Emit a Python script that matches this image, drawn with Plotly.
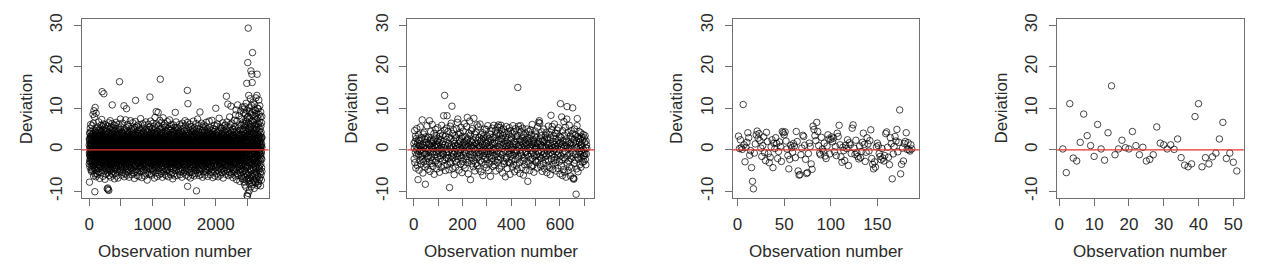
import plotly.graph_objects as go

# ---------------- data (deviations, read/estimated from the picture) ----------------
dev_panel1 = [
1.2,-3.4,2.6,-0.8,-7.8,2.3,4.1,-2.7,0.4,-1.5,-4.1,1.7,-1.3,3.9,-0.6,0.9,5.2,-2.2,2.8,-0.5,
3.3,-1.1,0.2,6.1,-3.0,1.5,-1.9,4.4,-4.8,2.6,0.7,-2.5,1.3,-0.3,3.2,-5.2,1.1,-0.9,-3.7,0.0,
-1.6,2.6,2.1,-4.4,3.5,-0.9,5.8,-2.7,1.9,-2.9,0.4,0.6,-3.3,1.9,-1.2,2.4,-5.0,3.7,-0.4,8.5,
0.8,-2.0,4.0,-1.6,2.9,-1.1,6.4,-3.8,1.3,-6.3,3.3,0.3,-2.4,1.7,9.4,-0.6,2.0,-4.4,1.6,-3.1,
3.0,-1.4,0.0,-4.2,0.5,7.9,-2.8,1.0,-5.8,-10.1,2.4,-0.1,2.7,-3.5,10.2,4.6,-1.8,0.1,-4.7,3.6,
-2.3,1.8,2.6,-0.7,4.1,-6.5,2.2,-3.9,0.9,8.8,-1.0,3.3,-2.3,2.5,-2.6,5.1,-0.2,1.4,-5.7,1.4,
0.6,-0.8,3.8,-2.1,1.0,-4.9,2.9,0.3,-1.7,5.5,-3.2,1.2,-0.4,4.2,-6.0,0.8,2.3,-1.5,-3.6,1.9,
-0.3,4.7,-2.6,1.6,-1.2,3.1,-4.5,0.5,2.0,-0.9,6.7,-2.9,1.4,-3.8,0.2,2.8,-5.3,3.6,-1.0,0.4,
2.2,-3.5,0.9,-1.3,5.0,-2.2,1.8,-6.9,3.4,0.1,-0.6,2.5,-4.0,4.6,-1.9,0.7,3.0,-2.4,1.1,-0.2,
-4.3,1.5,3.9,-0.5,2.1,-3.0,0.0,5.9,-1.6,2.7,-5.5,1.3,-2.1,0.6,3.5,-1.4,-3.2,7.3,0.3,-0.7,
1.7,-2.6,4.4,-0.1,14.0,-4.6,2.4,0.8,-1.8,3.2,-3.4,1.0,5.6,-0.9,-2.7,2.0,-6.4,0.5,3.7,-1.1,
0.2,3.0,-2.3,1.5,-4.1,6.2,-0.8,2.6,-1.5,0.9,4.8,13.5,-3.6,1.2,-0.4,-5.1,2.9,-2.0,0.6,3.3,
-1.7,0.4,-3.9,2.1,5.3,-0.6,1.8,-2.5,4.0,-7.1,0.7,3.4,-1.2,2.2,-4.4,0.0,1.5,6.0,-2.8,-0.3,
2.7,-1.4,0.9,-3.1,4.3,-5.9,1.6,-0.7,2.8,-2.2,0.3,5.0,-3.7,1.1,-1.0,3.6,-4.8,0.8,2.0,-0.5,
-2.9,1.9,-0.2,4.5,-9.4,0.6,-3.3,2.3,-1.6,5.7,-4.2,1.0,3.1,-0.8,-9.2,2.5,-5.4,0.4,-2.0,-9.6,
3.8,-1.9,0.5,-4.7,2.0,-0.1,6.5,-2.6,1.3,-9.8,-3.5,4.1,-0.9,1.7,-6.2,2.9,-1.3,0.2,3.4,-2.4,
0.7,-5.0,2.6,-0.6,4.9,-2.1,1.4,-3.9,0.1,3.2,-1.5,7.0,-4.5,1.9,-0.3,2.4,-2.7,0.9,-6.6,3.0,
-1.0,2.2,-3.2,5.4,-0.4,1.2,-4.9,0.8,3.7,-2.2,0.0,-5.6,2.7,-1.1,4.2,-0.7,1.6,-3.4,6.3,-1.8,
2.5,-0.5,1.0,10.8,-3.0,-1.4,4.6,-2.3,0.6,-4.1,2.1,-0.2,3.9,-6.0,1.3,-1.7,0.4,5.2,-2.9,1.7,
-3.6,0.3,2.8,-1.2,-5.2,1.8,-0.8,3.5,-2.6,0.9,6.0,-4.3,1.1,-0.1,2.4,-3.1,4.5,-1.6,0.2,-7.0,
1.6,-2.1,0.7,4.7,-0.9,2.3,-4.6,1.0,-1.4,3.0,-0.3,5.8,-3.3,0.5,2.1,-2.5,-5.7,1.4,3.6,-0.6,
-1.9,0.2,3.3,-3.8,1.5,-0.7,6.6,-2.0,0.8,-4.4,2.6,-1.1,0.1,4.1,-6.3,1.9,-0.4,2.7,-2.8,0.6,
3.1,-1.5,-3.5,0.9,5.1,-0.2,1.7,-2.4,-0.8,2.9,-4.7,0.4,3.8,-1.8,1.2,-6.8,2.0,-0.5,4.4,-2.2,
0.3,2.4,-1.3,-4.0,1.1,3.5,-2.7,0.6,-0.1,6.2,-3.6,1.8,-1.0,2.3,-5.3,0.0,4.0,-2.1,1.5,16.4,
-0.9,1.3,-3.0,4.8,-1.7,0.5,2.2,-5.0,1.0,-0.4,3.3,-2.3,0.8,7.4,-1.2,-3.9,2.5,-0.7,1.9,-4.6,
2.0,-0.3,5.5,-2.6,0.2,-1.5,3.7,-4.2,1.6,-0.6,2.8,-6.1,0.9,-1.9,4.3,-0.1,1.2,-3.2,2.6,0.4,
-2.7,4.0,-0.8,1.4,-3.6,2.1,0.0,-1.3,6.4,-4.8,1.7,-0.5,3.1,-2.0,0.6,-5.5,2.3,-1.0,3.9,-0.2,
1.1,-2.4,0.5,3.4,-1.6,-4.3,2.7,0.2,-0.9,10.6,-3.1,1.5,4.6,-1.4,-6.5,0.7,2.0,-2.6,0.1,5.0,
-1.3,2.6,-3.7,0.8,1.9,-0.4,4.2,-2.2,0.3,-5.8,3.0,-1.1,1.4,-0.6,2.5,-3.4,7.2,0.9,-1.8,2.2,
0.6,-4.0,1.8,-0.2,3.6,-2.9,0.4,5.3,-1.5,9.9,-0.7,2.1,-4.5,1.2,-2.3,3.2,0.0,-6.1,1.7,-0.8,
2.9,-1.2,0.3,-3.3,4.5,-0.5,1.6,-2.1,6.1,-4.9,0.8,2.4,-1.7,0.1,3.7,-3.0,1.3,-0.9,-5.4,2.0,
-0.6,3.2,-2.5,1.0,-0.3,5.6,-4.1,0.7,2.2,-1.4,-6.6,1.5,-0.8,4.0,-2.0,0.5,2.8,-3.5,1.1,-1.0,
4.4,-1.7,0.2,-3.9,2.5,-0.4,1.9,-5.1,3.3,0.6,-1.3,7.0,-2.7,1.4,-0.1,2.9,-4.3,0.9,-2.2,3.6,
-1.5,0.8,2.4,-2.8,5.1,-0.6,1.2,-4.6,0.3,3.0,-1.9,-6.0,2.1,-0.2,4.7,-3.1,1.6,-0.9,2.6,-0.4,
0.9,-3.3,1.7,4.3,-1.1,-0.5,2.8,-2.4,6.5,-5.0,0.4,1.9,-1.6,3.4,-0.7,0.1,-4.2,2.3,-2.9,1.3,
-0.2,2.7,-5.6,0.6,3.8,-1.8,1.1,-0.3,-3.6,4.9,-2.1,0.8,2.0,-6.9,1.4,-0.8,3.1,-2.5,0.5,5.4,
-1.4,0.3,2.2,-4.0,1.0,-2.7,3.6,0.0,-1.2,6.8,-3.8,1.7,11.9,-0.6,2.5,-5.2,0.7,-1.9,4.1,-0.1,
1.8,-2.3,0.4,3.0,-4.7,1.3,-0.9,2.6,-1.6,0.2,5.7,-3.0,0.9,-0.4,2.3,-6.2,1.5,-2.0,3.5,-0.7,
-3.2,1.6,-0.5,4.6,-1.3,0.7,2.1,-5.4,0.3,-2.6,3.9,-0.2,1.2,-4.1,6.0,-1.5,0.6,2.8,-3.4,1.0,
0.1,-1.9,3.4,-0.8,2.0,-6.4,1.4,-2.2,4.8,0.5,-1.0,2.5,-3.7,0.9,-0.3,5.3,-2.8,1.7,-4.5,0.4,
2.6,-0.6,-3.0,1.9,4.0,-1.7,0.2,-5.3,3.1,-0.4,1.5,-2.4,7.5,-0.9,0.8,-3.9,2.4,-1.2,0.0,4.5,
-2.1,1.1,-0.7,3.7,-4.4,0.6,2.7,-1.5,0.3,-6.7,2.0,-0.2,5.2,-3.3,1.3,-1.0,3.3,-2.7,0.9,-0.5,
1.4,-3.6,0.5,2.3,-1.1,6.3,-4.0,0.8,-0.6,3.0,-2.2,1.7,-5.1,0.2,4.3,-1.8,0.7,-3.0,2.2,-0.3,
-0.8,4.1,-2.5,0.4,1.6,-4.8,2.9,-0.1,-1.4,5.9,-3.2,1.0,0.3,-2.0,3.6,-6.3,1.2,-0.7,2.5,-1.6,
3.2,-0.4,1.8,-3.7,0.6,-1.2,4.7,-2.6,0.1,2.1,-5.7,1.5,-0.9,3.4,-1.9,0.8,6.7,-4.1,0.4,-2.3,
0.7,2.4,-1.0,-3.5,5.0,-0.3,1.3,-2.1,3.8,-4.6,0.5,-1.7,2.6,-0.6,1.0,-7.3,2.8,0.2,-2.9,4.2,
-1.5,0.9,3.1,-2.4,0.0,-5.5,1.9,-0.8,4.4,-1.3,2.2,-3.1,0.6,6.1,-2.7,1.4,-0.5,3.0,-4.3,0.8,
1.2,-2.0,0.3,4.9,-3.8,1.7,-0.2,2.5,-1.6,-5.9,3.3,0.4,-1.1,2.0,-4.0,0.9,5.5,-2.5,1.1,12.7,
-0.4,3.6,-2.9,0.8,1.4,-4.7,2.3,-0.6,0.2,6.9,-3.4,1.6,-1.0,3.9,-2.2,0.5,-5.8,2.1,-0.3,1.7,
4.3,-1.4,0.6,-3.1,2.7,-0.9,1.1,-6.1,3.5,-0.1,-2.6,5.1,-1.8,0.7,2.4,-4.4,1.3,-0.5,3.0,-2.1,
0.9,-4.9,2.0,-0.7,1.5,3.9,-2.3,0.1,-1.2,6.4,-3.6,1.8,-0.4,2.9,-5.2,0.6,4.6,-1.6,-2.8,1.0,
-0.6,2.2,-3.4,1.3,5.7,-1.1,0.4,-2.5,3.2,-6.8,0.8,-0.3,4.1,-2.0,1.6,-1.3,2.6,-4.1,0.2,7.8,
1.9,-2.8,0.5,-1.6,3.7,-0.2,2.1,-4.5,1.0,-0.8,5.3,-3.0,1.4,-0.5,2.4,-5.6,0.7,3.3,-1.9,9.2,
-1.2,3.5,-0.4,1.6,-4.2,2.8,0.0,-2.3,6.2,-1.5,0.9,-3.7,2.0,-0.7,4.5,-2.6,1.2,-6.4,0.3,2.5,
4.0,-1.0,0.6,-3.3,2.3,-0.2,1.5,-5.0,3.1,9.0,-2.2,0.4,-1.4,5.8,-3.9,1.1,-0.6,2.7,-2.4,0.8,
1.3,-4.6,3.0,-0.9,0.2,-2.0,4.9,-1.7,2.4,-6.0,0.5,1.8,-3.5,0.0,3.6,-1.1,7.1,-2.7,1.0,-0.3,
-2.5,2.0,0.7,17.0,-4.3,1.4,-1.0,3.3,-0.5,5.0,-2.9,0.9,-1.8,2.6,-5.7,0.3,4.2,-1.3,1.7,-3.2,
0.4,6.6,-2.1,1.2,-0.6,3.9,-4.0,0.8,-1.5,2.2,-3.3,5.4,-0.2,1.6,-6.6,2.8,-0.9,0.1,4.0,-2.4,
3.4,-0.8,1.0,-4.8,2.5,-1.2,0.3,7.7,-3.0,1.7,-0.4,2.9,-5.3,0.6,-1.9,4.3,-2.2,1.3,-0.7,2.0,
-1.0,0.5,-3.8,2.4,5.9,-2.5,1.1,-0.3,3.0,-4.4,0.7,-1.6,6.3,-2.0,0.2,1.9,-5.9,3.5,-0.6,1.4,
2.3,-3.1,0.0,4.6,-1.4,1.0,-2.7,0.8,5.5,-4.7,1.6,-0.5,2.7,-6.2,0.4,3.1,-1.7,-0.2,2.0,-3.6,
0.6,1.7,-2.3,3.8,-0.9,-5.1,2.5,0.2,-1.2,4.4,-3.4,1.1,-0.4,6.8,-2.6,0.9,-1.5,3.2,-4.9,0.3,
-0.7,2.9,-4.2,1.4,0.1,-1.9,5.2,-2.4,0.7,3.3,-6.5,1.0,-0.3,2.1,-3.0,4.7,-1.1,0.5,-2.2,1.8,
3.6,-0.1,-2.8,1.2,-5.4,2.6,0.4,-1.3,7.2,-3.5,0.9,1.7,-0.6,-4.1,2.3,-1.8,0.0,5.6,-2.9,1.1,
-1.6,0.8,3.0,-3.2,1.5,-0.4,4.8,-6.0,0.6,2.2,-1.0,3.6,-4.5,0.3,-2.1,1.9,6.1,-0.8,-3.4,0.7,
2.1,-2.5,0.4,1.6,-4.0,5.1,-1.3,0.9,-0.2,3.4,-5.5,1.3,-1.7,2.7,0.0,-3.1,4.2,-0.6,1.0,-7.0,
0.5,3.7,-1.5,-2.9,1.8,-0.3,2.5,-4.6,6.0,-1.1,0.7,-2.2,3.1,-0.5,1.4,-5.8,2.0,0.2,-3.3,4.5,
-0.9,1.2,-3.6,2.8,0.1,-1.4,4.3,-2.0,0.6,-6.3,3.5,-0.7,1.7,-2.4,5.4,0.3,-4.2,1.5,-1.0,9.0,
2.4,-0.6,0.9,-4.4,1.6,3.2,-2.6,0.0,-1.2,4.6,-3.1,1.1,6.7,-0.9,-5.0,2.2,-1.6,0.5,3.0,-2.3,
1.0,-3.9,2.6,-0.4,0.7,-1.8,5.3,-2.8,1.4,-0.1,3.7,-6.2,0.8,2.1,-1.3,-3.5,4.0,-0.5,1.9,-2.0,
0.3,2.5,-1.7,-4.0,3.3,-0.8,1.2,-2.9,0.6,5.0,-3.4,1.5,-0.2,2.8,-5.1,0.9,-1.1,3.9,-2.5,0.4,
-1.3,4.2,-0.5,1.8,-3.7,0.2,2.4,-1.6,6.1,-4.6,0.7,-0.9,3.1,-2.2,1.0,-6.0,2.7,0.1,-1.5,3.5,
1.6,-2.4,0.8,-0.3,4.5,-5.3,1.9,-1.0,2.3,-3.2,0.4,5.7,-1.8,0.6,-4.3,2.9,-0.7,1.3,-2.6,0.0,
-0.5,3.0,-2.1,1.1,-6.6,2.2,0.5,-1.4,4.1,-3.0,1.7,-0.2,2.6,-4.9,0.8,6.4,-2.3,1.0,-0.8,2.4,
3.8,-1.2,0.2,-3.5,1.4,-0.6,5.2,-2.7,0.9,-1.9,2.8,-5.6,1.2,0.4,-2.0,3.4,-0.3,-4.4,1.8,-1.1,
0.7,2.1,-3.3,4.6,-0.9,1.3,-1.7,0.1,-5.0,3.2,-0.4,2.4,-2.8,7.0,-1.4,0.6,-3.8,1.6,0.3,-2.2,
2.9,-0.7,1.5,-4.1,0.0,5.9,-2.5,1.1,-1.3,3.5,-6.1,0.8,-0.5,2.2,-3.0,1.7,4.3,-1.9,0.4,-4.6,
-1.0,3.3,-2.4,0.6,4.8,-0.2,1.9,-5.2,2.5,-1.5,14.3,-3.6,0.9,6.6,-8.8,1.4,-0.6,3.0,-2.1,11.1,
0.5,-1.8,4.0,-3.1,1.2,-0.4,2.7,-6.4,0.2,5.4,-2.2,1.0,-0.9,3.6,-4.7,0.7,2.0,-1.6,-3.4,1.5,
-0.3,2.6,-1.2,0.8,-5.5,3.9,-0.7,1.6,-2.7,0.0,6.2,-4.0,1.3,-1.0,2.4,-2.9,0.5,4.7,-1.7,-6.8,
1.9,-0.5,3.1,-2.3,0.7,-4.5,2.2,-1.1,5.6,-0.2,1.4,-3.5,0.3,2.9,-1.9,-5.4,1.0,3.8,-0.8,0.6,
-2.6,1.2,-0.4,4.4,-3.0,0.9,2.0,-1.5,-6.0,3.4,-0.6,1.7,-2.2,5.0,0.1,-4.2,2.6,-1.0,0.5,-3.6,
3.0,-1.4,0.2,-2.8,1.6,6.9,-3.9,0.7,-0.9,2.4,-5.0,1.1,3.7,-1.8,0.4,-2.5,4.6,-0.3,1.3,-6.3,
-0.8,2.3,-3.4,1.0,0.0,-1.6,5.3,-2.4,1.8,-4.6,0.6,3.2,-0.7,2.1,-5.7,1.4,-1.2,0.3,4.0,-2.0,
1.1,-3.7,2.8,-0.5,1.9,-1.3,0.4,-4.9,3.5,6.3,-2.1,0.8,-0.2,2.6,-9.9,1.5,-1.7,4.4,-3.2,0.2,
-1.4,0.7,3.6,-2.6,1.2,-0.6,5.1,-4.3,0.3,-1.9,2.5,-3.0,7.4,-0.4,1.6,-5.6,0.9,2.0,-1.1,-2.7,
2.2,-0.8,0.5,-3.9,4.2,-1.6,1.0,-2.2,0.0,5.8,-4.8,1.7,-0.5,2.9,-1.3,0.6,-6.2,3.3,-0.2,1.4,
-2.9,1.8,0.2,-1.0,3.7,-5.1,2.4,-0.7,1.1,9.1,-3.5,0.4,4.9,-1.8,0.8,-2.6,2.3,-0.1,-4.4,1.6,
0.9,-2.2,3.4,-0.6,-5.9,1.5,0.2,-1.4,4.1,-3.3,1.3,-0.3,2.7,6.4,-2.5,0.5,-1.1,3.0,-4.7,0.0,
-0.4,2.5,-1.8,1.0,-3.6,4.7,-0.9,0.3,-2.0,1.9,-6.6,2.8,0.6,-1.2,3.5,-2.8,1.2,-0.5,5.5,-3.9,
1.7,-1.1,0.4,-4.2,2.6,-0.2,6.0,-2.5,1.0,-1.6,3.1,-5.3,0.7,2.2,-0.8,-3.0,4.3,-1.4,0.1,2.0,
-3.3,0.8,1.6,-0.5,4.8,-2.1,0.2,-6.1,2.9,-1.2,1.4,-3.7,5.6,-0.3,0.9,-2.4,1.8,-4.9,3.2,-0.6,
0.5,2.4,-1.7,-4.5,1.1,3.6,-0.4,-2.3,0.8,6.6,-3.1,1.5,-1.0,2.1,-5.4,0.3,4.0,-1.9,0.6,-2.8,
2.7,-0.9,0.3,-3.4,1.8,-1.3,5.0,-2.6,0.4,-0.7,3.3,-6.4,1.9,-0.1,2.5,-4.0,1.0,-1.5,4.5,0.2,
-1.8,3.9,-2.2,0.7,-0.4,1.6,-5.0,2.3,-1.1,4.2,0.0,-3.2,1.3,-0.8,6.9,-2.7,0.5,2.8,-4.3,1.2,
0.4,-2.5,1.4,-0.2,3.0,-4.6,0.9,5.3,-1.6,2.0,-3.5,0.6,-1.2,2.6,-6.0,1.7,-0.6,3.7,-2.0,0.1,
3.5,-1.3,0.8,-3.9,2.1,-0.5,1.2,-2.8,4.6,-5.5,0.3,1.9,-0.9,3.2,-1.7,0.6,-4.1,2.4,7.1,-2.3,
-0.6,1.6,-2.9,4.0,0.4,-1.5,2.8,-4.8,0.1,3.3,-0.8,1.1,-6.7,2.2,-1.9,5.1,-0.3,0.9,-2.6,1.4,
2.0,-3.8,0.6,-0.9,1.5,4.4,-2.2,0.2,-5.2,2.7,-1.0,3.6,-0.4,1.3,-3.3,0.7,5.9,-1.6,-0.1,2.3,
-1.5,0.4,3.1,-2.4,1.0,-6.3,2.5,-0.7,1.7,-3.0,4.9,-1.2,0.3,2.6,-4.4,0.8,-0.5,3.8,-2.1,10.0,
0.6,-1.9,2.3,-4.1,1.4,0.0,3.4,-2.7,0.9,-1.1,5.7,-3.6,1.6,-0.4,2.1,-5.8,0.5,1.8,-2.3,4.1,
-0.2,2.9,-1.4,0.7,-3.7,1.9,6.2,-2.0,0.4,-4.9,2.4,-0.9,1.2,3.5,-2.6,0.1,-6.5,2.7,-1.1,0.8,
3.3,-0.5,1.0,-2.5,4.4,-1.8,0.3,-5.3,2.0,-0.6,1.5,-3.1,7.6,-1.3,0.6,2.6,-4.4,0.2,-1.7,2.1,
-1.0,0.9,-3.5,2.3,0.5,-1.2,4.7,-2.9,1.3,-0.3,3.0,-6.1,0.8,2.5,-1.5,-4.0,1.7,5.4,-0.7,0.3,
1.8,-2.6,0.2,3.6,-1.0,-4.7,2.2,0.6,-1.9,5.2,-3.2,1.1,-0.5,2.8,-5.5,0.4,3.9,-1.4,0.9,-2.4,
-0.7,4.3,-2.0,1.2,-0.2,-3.6,2.6,0.7,-1.3,6.5,-4.5,1.5,0.0,2.1,-2.8,1.0,-6.8,3.4,-0.9,1.6,
2.5,-1.1,0.4,-3.0,1.7,4.6,-2.4,0.1,-0.8,3.3,-5.1,1.3,-1.6,2.4,0.6,-3.8,5.8,-0.4,1.1,-2.1,
0.3,-4.3,2.9,-0.6,1.5,-1.7,3.8,-2.9,0.8,-0.1,6.0,-3.4,1.8,-1.0,2.2,-5.9,0.5,4.1,-1.5,-0.3,
1.4,-2.2,0.6,4.9,-3.5,1.0,-0.4,12.9,-1.8,2.7,-4.8,0.2,3.1,-1.2,0.9,-2.6,6.7,-0.6,1.6,-3.9,
-0.9,2.1,-1.5,0.5,3.7,-5.2,1.9,-0.3,2.8,11.0,-3.0,0.7,-1.3,4.4,-2.3,0.1,1.5,-6.2,2.3,-0.8,
3.0,-0.6,1.3,-4.0,0.4,2.6,-1.7,5.5,-2.5,0.8,-0.4,3.5,-5.4,1.2,-1.1,2.0,-3.3,0.6,7.9,-1.9,
0.7,-2.8,2.2,-0.5,1.6,-4.5,3.9,-1.2,0.3,6.1,-3.6,1.4,-0.7,2.5,-1.5,-6.0,0.9,4.6,-2.2,10.5,
-1.3,1.8,-3.1,0.6,4.2,-0.9,2.3,-2.0,0.0,-5.6,3.3,1.1,-1.6,2.9,-4.2,0.5,6.4,-0.8,1.2,-2.7,
2.2,-0.3,0.8,-3.7,1.5,5.0,-2.6,0.4,-1.2,3.6,-6.7,1.7,-0.5,2.4,-1.8,0.9,-4.6,3.1,-0.2,4.8,
-2.4,0.6,2.7,-1.4,0.2,-4.9,3.5,-0.7,1.8,-2.9,0.5,7.1,-3.2,1.0,-0.6,2.1,-5.3,0.3,4.3,-1.6,
1.2,-3.5,0.8,5.6,-1.9,2.4,-0.4,-6.3,3.0,-1.1,1.6,8.4,-2.8,0.5,-4.4,2.9,-0.7,1.4,-2.3,9.6,
0.3,-1.7,4.5,-3.0,1.1,-0.5,2.6,-7.2,0.9,3.8,-1.4,0.2,-4.8,6.9,-2.1,1.5,-0.3,2.3,-5.7,0.6,
2.8,-0.9,1.7,-2.6,10.8,-4.2,0.4,3.3,-1.6,0.8,-6.1,2.0,-0.6,5.2,-3.3,1.3,-1.0,4.1,-2.4,0.1,
-1.2,3.6,-0.4,1.9,-5.0,0.7,8.2,-2.7,1.2,-0.2,3.0,-4.0,0.5,-1.8,6.0,-3.6,2.2,-0.8,-7.6,1.6,
0.9,-2.3,2.5,-0.6,4.7,-1.4,0.3,-5.5,3.4,1.0,-3.1,9.3,-0.9,2.1,-4.6,0.4,1.8,-2.0,5.9,-6.4,
-0.5,1.7,-3.8,0.2,2.9,-1.3,7.4,-4.5,1.0,-0.7,3.7,-2.5,0.6,-6.9,2.4,-1.1,4.9,0.0,-3.2,10.3,
1.5,-0.8,2.2,-5.2,0.4,3.1,-1.9,0.9,-3.5,6.5,-0.3,1.3,-7.1,2.7,-1.5,4.4,-2.8,0.5,8.9,-4.0,
2.6,-6.0,0.7,4.9,-2.4,9.8,-1.0,3.5,-7.8,1.2,-3.3,6.2,0.1,-4.9,2.0,10.4,-1.6,-8.5,3.0,0.6,
-2.7,5.4,-0.5,1.8,-6.6,3.9,8.7,-3.9,0.9,-1.3,7.1,-5.3,2.4,-0.8,4.6,-9.0,1.5,-2.2,5.9,11.2,
0.4,-4.4,3.2,-1.7,6.8,-7.3,1.0,9.5,-2.9,16.0,-5.8,2.7,-0.6,4.3,-11.0,1.9,-3.6,7.7,0.8,-11.2,
-1.9,3.6,-6.2,2.1,21.0,-4.0,0.5,8.0,-2.6,-10.5,5.1,29.3,-1.2,3.4,-7.0,0.9,6.4,-3.1,1.7,13.1,
-5.5,2.9,-0.2,4.8,-8.1,1.3,10.1,-2.3,3.7,-9.8,0.6,-4.6,7.5,-1.5,2.5,-6.8,5.3,0.0,-3.2,9.2,
1.1,-7.4,4.0,-0.9,6.1,-2.8,12.3,-5.1,0.8,3.3,-1.4,8.6,-6.3,2.2,19.0,-3.7,0.3,5.6,-8.9,1.6,
-2.0,4.4,-0.6,10.7,-4.8,1.9,-7.9,3.1,0.4,18.2,-3.0,6.9,-1.1,2.6,16.2,-5.9,0.7,9.0,-2.5,23.4,
3.8,-6.5,1.4,-0.3,5.0,-3.4,8.3,-8.3,2.0,-1.7,11.5,-4.3,0.9,6.6,-7.2,1.8,-2.6,4.1,-0.4,9.7,
-4.7,2.3,-1.0,7.0,-5.6,0.5,3.9,-9.3,1.3,-2.1,10.9,-3.5,5.8,-0.7,2.8,-7.6,0.2,4.7,-1.9,8.1,
1.0,-3.0,6.0,-6.1,2.5,-0.5,9.4,-4.1,0.7,3.6,-8.0,1.6,-1.3,12.5,-2.4,4.9,-5.3,0.3,7.3,-1.6,
-0.8,5.2,-7.0,2.0,-2.9,8.8,0.6,-4.4,3.4,13.1,-1.1,6.3,18.2,-5.9,1.5,-0.2,4.0,-8.6,2.2,10.0,
-3.3,0.9,7.6,-1.8,3.0,-6.4,1.1,5.5,-2.7,-7.7,2.7,9.9,-4.2,0.4,6.2,-1.4,-8.2,3.5,-0.6,12.0,
2.4,-5.0,0.8,4.5,-2.2,8.5,-7.1,1.7,-0.4,3.2,-4.5,6.7,0.1,-3.8,10.6,-1.0,2.9,-6.7,5.0,-0.9,
1.3,-2.6,7.9,-5.4,0.5,3.8,-8.7,2.1,-1.5,9.1,-3.4,0.7,5.7,-0.3,-6.0,2.6,4.2,-2.0,1.0,-7.3,
3.1,-0.8,6.5,-4.3,1.4,-2.3,8.0,-5.2,0.6,2.9,
]

dev_panel2 = [
1.5,-2.2,0.4,4.6,-3.1,2.0,-0.6,3.3,-4.4,0.8,
2.7,-1.3,5.1,-0.2,-3.8,1.6,0.3,-7.2,2.4,-1.0,
3.6,-4.9,0.9,-0.4,2.2,-2.6,5.5,1.1,-1.7,0.0,
-3.4,2.9,0.6,-1.5,7.2,-2.3,1.3,-5.6,3.8,-0.7,
0.5,-2.9,4.2,1.0,-1.1,2.5,-4.1,-8.3,0.2,3.1,
-0.9,1.8,-3.6,0.4,5.8,-2.0,2.6,-0.3,-4.7,1.4,
3.0,-1.6,0.1,-2.8,7.0,1.2,-5.2,2.3,-0.5,4.4,
-1.9,0.7,-3.3,2.0,-0.8,6.1,-2.5,1.5,-4.0,0.3,
2.2,-0.4,3.9,-5.9,1.0,-1.2,2.8,-3.0,0.6,4.9,
-2.6,1.3,-0.6,3.4,-4.6,0.9,2.1,-1.8,5.3,-0.1,
0.8,-3.5,2.6,-0.9,1.7,-5.4,3.2,0.2,-2.1,4.0,
-1.4,2.4,-4.3,0.6,5.9,-0.3,1.4,-2.7,3.5,-0.8,
2.0,-1.1,8.2,-3.9,0.5,4.7,13.1,-2.4,1.2,-5.0,
3.3,0.1,-1.9,5.2,-0.6,2.5,8.2,-3.6,0.9,-1.3,
4.4,-2.1,1.6,-0.5,-4.8,3.0,-9.1,0.7,-2.9,5.7,
0.2,-3.2,2.7,6.4,-1.5,1.1,10.5,-0.8,3.9,-4.5,
-2.0,0.6,4.8,-1.1,2.2,-6.0,1.5,-0.4,3.4,-2.7,
1.0,-4.2,2.9,0.3,-1.6,5.0,-3.0,0.8,6.6,-0.9,
7.4,-2.3,1.4,-0.2,3.7,-4.9,0.6,2.4,-1.4,4.1,
-0.7,1.9,-3.4,0.0,5.4,-1.9,2.8,-5.5,1.1,3.2,
-2.8,0.4,4.5,-1.3,1.7,-3.7,0.9,6.3,-0.5,2.0,
-4.4,1.2,-0.8,3.1,-2.2,0.5,5.6,-1.6,2.3,7.8,
-3.1,0.7,2.6,-5.8,1.5,-0.3,4.0,-2.5,0.2,6.9,
-1.2,3.5,-7.2,0.9,2.1,-1.9,4.6,-3.4,0.6,1.8,
5.1,-0.6,2.4,-4.1,1.0,-2.6,7.6,0.3,-1.5,3.8,
-5.1,1.6,0.0,2.9,-3.3,4.3,-0.9,1.3,-2.0,6.0,
0.4,-3.8,2.2,-0.7,5.5,-1.7,1.0,-4.6,3.0,0.6,
-1.1,6.2,-2.7,0.8,1.9,-5.3,3.6,-0.4,2.5,-3.0,
1.4,-0.2,4.1,-6.2,0.5,2.8,-1.4,3.3,-2.3,5.0,
-0.8,1.1,-3.5,2.3,0.0,-1.8,4.9,-4.3,1.6,-0.5,
3.1,-2.4,0.7,5.8,-1.0,1.9,-5.0,0.3,2.7,-3.3,
0.9,-1.5,3.7,-0.4,-6.4,2.4,0.5,4.5,-2.1,1.2,
-2.9,5.2,-0.7,1.6,-4.0,3.0,0.1,-1.3,5.9,-3.6,
1.8,-0.1,2.9,-2.6,4.7,0.4,-5.1,1.5,3.6,-1.0,
-0.4,4.0,-3.0,5.5,0.8,-1.7,2.2,6.0,-2.4,3.3,
0.6,-4.6,5.4,1.3,-0.9,3.8,-2.0,5.9,-3.9,2.6,
4.8,-1.2,0.3,2.7,-5.6,1.0,3.4,-0.6,5.0,-2.8,
1.5,-3.4,4.1,-0.3,2.0,-6.5,0.8,3.0,-1.8,5.6,
-2.2,0.9,2.5,-4.5,1.6,-0.4,4.4,-2.9,0.2,3.7,
-1.0,5.3,-3.2,1.2,-5.9,2.3,0.5,-1.6,4.6,-0.7,
2.8,-2.5,0.1,3.9,-4.2,1.4,5.8,-1.3,0.6,-3.5,
1.9,-0.8,4.3,-5.3,2.1,0.0,-2.4,5.1,-0.5,3.2,
-3.7,1.3,-0.2,2.6,-4.8,3.4,15.0,-1.5,0.7,5.7,
-2.0,4.9,0.4,-3.1,2.4,-5.7,1.1,5.8,-0.9,2.0,
4.2,-1.4,0.8,-4.3,3.1,-0.3,5.2,-2.6,1.5,-6.1,
0.5,3.5,-1.9,2.2,-3.6,0.9,4.0,-0.7,1.6,-4.9,
2.5,-0.5,1.2,-2.8,5.0,-1.1,3.0,-7.6,0.3,2.1,
-1.6,4.4,-3.3,0.6,1.8,-5.0,2.7,-0.2,4.8,-2.3,
0.8,-1.0,3.6,-4.0,1.3,6.1,-2.1,0.4,-3.8,2.4,
-0.6,2.0,-5.4,1.5,3.3,-1.5,0.2,4.5,-2.7,1.0,
3.8,-3.0,0.5,-1.2,2.9,-4.4,1.7,5.5,-0.4,-2.5,
1.4,-0.8,6.6,2.0,7.0,-1.6,6.4,-3.5,0.7,2.6,
-4.1,1.1,3.4,-0.5,-2.0,4.3,-5.2,0.9,2.2,-1.3,
0.3,-3.3,1.9,5.0,-0.9,2.4,-4.6,0.6,-1.7,3.5,
-2.4,0.7,4.1,-1.4,1.6,-5.5,3.0,-0.3,2.5,-3.9,
1.2,5.7,-2.7,0.4,-1.0,3.7,-4.3,1.5,0.1,-6.0,
2.9,-0.6,8.3,-2.2,4.8,1.0,-3.6,5.6,-1.1,0.5,
-4.7,2.0,-0.3,3.3,-2.6,1.3,6.2,-1.8,0.2,4.0,
-3.1,0.8,2.7,-5.1,1.7,-0.5,3.9,-2.3,4.7,-1.2,
0.9,-4.5,2.3,5.3,-0.8,1.4,-2.9,0.0,3.2,-5.8,
1.6,11.1,-1.5,3.0,-3.9,0.6,7.9,-2.4,1.3,-6.2,
4.6,-0.7,2.2,-4.8,0.4,6.8,-1.9,3.5,-5.4,1.0,
-2.3,5.4,-0.4,1.8,-6.6,2.6,0.9,7.4,10.4,-3.2,
0.5,-1.4,4.2,-5.0,2.0,-2.7,0.3,5.9,-4.1,1.5,
-0.9,3.3,-6.3,1.1,-2.1,4.6,0.2,-4.4,2.8,-1.6,
3.9,10.1,-0.6,-6.8,1.7,-7.1,-6.9,2.5,-3.3,5.0,
0.6,-2.5,3.6,-1.2,1.4,-10.7,2.1,-4.6,0.4,5.8,
7.5,-1.8,3.2,-5.3,0.8,2.7,-2.2,4.4,-0.5,1.9,
-3.6,0.3,2.6,-1.1,4.1,-4.2,1.2,-0.3,3.0,-2.0,
0.7,-3.0,2.4,-0.6,3.7,-1.5,0.1,-2.8,2.9,-1.4,
1.8,-0.9,3.4,-2.3,0.5,-3.6,2.1,-1.0,1.2,0.4,
]

dev_panel3 = [
3.3,0.3,2.4,0.5,0.1,10.9,1.2,-2.9,0.6,1.8,
4.1,2.9,-1.3,-0.2,-4.3,-7.6,-9.4,-0.8,1.4,3.6,
4.5,2.8,3.9,2.2,0.4,-1.6,1.0,3.1,-0.7,-2.6,
4.2,2.0,-0.9,-3.1,-1.8,0.7,2.4,-4.3,1.6,0.3,
2.9,1.5,-2.1,-0.4,1.9,0.8,-2.8,4.4,4.1,3.6,
4.3,2.1,0.2,-1.4,-4.6,-2.3,1.1,0.5,-0.6,1.5,
0.9,-1.9,4.4,2.0,-5.1,-6.1,-6.0,-1.2,0.4,3.5,
3.2,1.1,-2.3,-5.7,-5.5,-0.9,1.6,0.8,-3.4,-4.7,
5.7,4.9,3.4,2.2,6.6,4.4,1.0,-0.8,-1.2,3.0,
0.2,-0.4,1.6,-1.5,-2.1,0.9,3.6,2.6,-1.0,2.5,
3.1,1.9,2.8,-0.5,0.8,-1.4,4.0,3.2,5.9,1.2,
-1.7,-3.0,0.6,-0.2,-2.6,1.1,0.3,2.4,-3.8,1.7,
1.2,-0.9,5.2,6.0,0.4,-1.1,2.3,-0.7,-1.6,-2.2,
0.9,-1.9,-0.4,1.8,4.0,1.3,-2.8,-0.6,2.9,1.4,
-0.3,2.2,4.8,-2.1,-3.5,-4.6,-2.9,-4.2,0.7,1.6,
1.0,-0.9,-1.6,-2.4,0.3,-2.0,-2.7,-1.4,3.9,4.3,
0.6,-1.8,-3.6,2.9,1.5,-7.0,-1.0,0.8,3.2,2.1,
4.9,-0.5,1.8,9.6,-5.8,-3.5,0.4,-2.7,1.5,2.0,
4.1,0.1,1.7,0.0,-0.3,1.2,0.2,
]

dev_panel4 = [
0.2,-5.5,11.1,-2.0,-2.7,1.8,8.6,3.4,1.0,-1.6,
6.1,0.2,-2.5,4.1,15.4,-1.2,0.2,2.3,0.5,0.2,
4.4,1.0,-1.2,0.6,-2.7,-2.3,-1.2,5.5,1.6,1.2,
0.2,1.2,0.1,2.6,-1.9,-3.7,-4.1,-3.4,8.0,11.1,
-4.1,-1.9,-3.4,-1.7,-0.8,2.6,6.6,-2.1,-0.8,-3.0,
-5.1,
]

panels = [dev_panel1, dev_panel2, dev_panel3, dev_panel4]

x_tick_vals = [
    [0, 500, 1000, 1500, 2000, 2500],
    [0, 100, 200, 300, 400, 500, 600, 700],
    [0, 50, 100, 150],
    [0, 10, 20, 30, 40, 50],
]
x_tick_text = [
    ["0", "", "1000", "", "2000", ""],
    ["0", "", "200", "", "400", "", "600", ""],
    ["0", "50", "100", "150"],
    ["0", "10", "20", "30", "40", "50"],
]
y_tick_vals = [-10, 0, 10, 20, 30]
y_tick_text = ["-10", "0", "10", "20", "30"]

x_title = "Observation number"
y_title = "Deviation"

# ---------------- layout geometry ----------------
W, H = 1270, 272
box_left_px = [80, 406, 731.7, 1056.7]
box_w_px = 187
box_top_px, box_bot_px = 14, 199
x_ranges = [[-115, 2834], [-25.8, 739.7], [-5.4, 195.0], [-0.66, 53.0]]
y_range = [-11.65, 31.6]

FONT = "Liberation Sans, Arial, sans-serif"
TXT = "#2a2a2a"
FRAME = "#707070"
FS = 17

fig = go.Figure()
layout = dict(
    width=W, height=H, margin=dict(l=0, r=0, t=0, b=0),
    paper_bgcolor="white", plot_bgcolor="white", showlegend=False,
    font=dict(family=FONT, size=FS, color=TXT),
)
annotations = []
shapes = []
ydom = [1 - box_bot_px / H, 1 - box_top_px / H]

for i, vals in enumerate(panels):
    n = i + 1
    xs = list(range(1, len(vals) + 1))
    xa = "x" if n == 1 else f"x{n}"
    ya = "y" if n == 1 else f"y{n}"
    fig.add_trace(go.Scatter(
        x=xs, y=vals, mode="markers", xaxis=xa, yaxis=ya,
        marker=dict(symbol="circle-open", size=6.5, color="#000000", opacity=0.72,
                    line=dict(width=1, color="#000000")),
        hoverinfo="skip",
    ))
    l = box_left_px[i] / W
    r = (box_left_px[i] + box_w_px) / W
    common = dict(showgrid=False, zeroline=False, showline=True, mirror=True,
                  linecolor=FRAME, linewidth=1, ticks="outside", ticklen=7,
                  tickwidth=1, tickcolor=FRAME,
                  tickfont=dict(family=FONT, size=FS, color=TXT))
    layout["xaxis" if n == 1 else f"xaxis{n}"] = dict(
        domain=[l, r], range=x_ranges[i], anchor=ya,
        tickmode="array", tickvals=x_tick_vals[i], ticktext=x_tick_text[i],
        ticklabelstandoff=3, **common)
    layout["yaxis" if n == 1 else f"yaxis{n}"] = dict(
        domain=ydom, range=y_range, anchor=xa,
        tickmode="array", tickvals=y_tick_vals, ticktext=y_tick_text,
        tickangle=-90, ticklabelstandoff=5, **common)
    shapes.append(dict(type="line", xref=f"{xa} domain", yref=ya,
                       x0=0, x1=1, y0=0, y1=0,
                       line=dict(color="#e8332d", width=1.2), layer="above"))
    cx = (box_left_px[i] + box_w_px / 2) / W
    annotations.append(dict(text=x_title, xref="paper", yref="paper",
                            x=cx, y=1 - 254 / H, xanchor="center", yanchor="middle",
                            showarrow=False, font=dict(family=FONT, size=FS, color=TXT)))
    annotations.append(dict(text=y_title, xref="paper", yref="paper",
                            x=(box_left_px[i] - 56) / W, y=1 - 106.5 / H,
                            xanchor="center", yanchor="middle", textangle=-90,
                            showarrow=False, font=dict(family=FONT, size=FS, color=TXT)))

layout["annotations"] = annotations
layout["shapes"] = shapes
fig.update_layout(**layout)
fig.write_html("out.html")
